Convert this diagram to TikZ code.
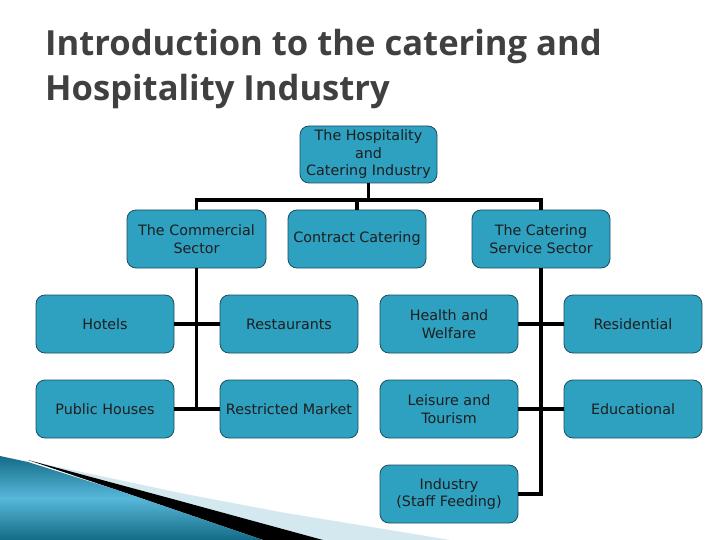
\documentclass[tikz,border=0pt]{standalone}
\usepackage{fontspec}
\setmainfont{DejaVu Sans}
\newfontfamily\titlefont{Open Sans}
\definecolor{boxfill}{HTML}{2EA0C0}
\definecolor{boxline}{HTML}{1B4F60}
\definecolor{titlegray}{HTML}{404040}
\definecolor{tealdark}{HTML}{136B87}
\definecolor{teallight}{HTML}{58B8DA}
\definecolor{paleblue}{HTML}{D3E8EF}
\definecolor{boxtext}{HTML}{1E1E1E}
\tikzset{
  box/.style={draw=boxline, line width=0.8pt, fill=boxfill, rounded corners=9pt,
    minimum width=138pt, minimum height=58pt, inner sep=0pt, align=center,
    text=boxtext, font=\fontsize{14.3}{17.5}\selectfont},
  conn/.style={line width=3.8pt, black},
  ttl/.style={anchor=base west, inner sep=0pt, text=titlegray,
    font=\titlefont\bfseries\fontsize{34.6}{40}\selectfont}
}
\begin{document}
\begin{tikzpicture}[x=1pt,y=-1pt]
\useasboundingbox (0,0) rectangle (720,540);
\fill[white] (0,0) rectangle (720,540);
% decoration bottom left
\fill[paleblue] (35,462) -- (180,493) -- (280,512) -- (420,535) -- (450,540) -- (323,540) -- cycle;
\fill[black] (28,460) -- (180,501) -- (323,540) -- (263,540) -- (120,491) -- cycle;
\shade[left color=tealdark, right color=tealdark, middle color=teallight, shading angle=0]
  (0,456) -- (28,462) -- (120,491) -- (263,540) -- (0,540) -- cycle;
% title
\node[ttl] (t1) at (45,56) {Introduction to the catering and};
\node[ttl] (t2) at (45,101) {Hospitality Industry};
% nodes
\node[box, minimum width=137pt, minimum height=57pt] (top) at (368.5,154.5) {The Hospitality\\and\\Catering Industry};
\node[box, minimum width=139pt] (com) at (196.5,239) {The Commercial\\Sector};
\node[box] (con) at (357,239) {Contract Catering};
\node[box] (css) at (541,239) {The Catering\\Service Sector};
\node[box] (hot) at (105,324) {Hotels};
\node[box] (res) at (289,324) {Restaurants};
\node[box] (hea) at (449,324) {Health and\\Welfare};
\node[box] (rsd) at (633,324) {Residential};
\node[box] (pub) at (105,409) {Public Houses};
\node[box] (rmk) at (289,409) {Restricted Market};
\node[box] (lei) at (449,409) {Leisure and\\Tourism};
\node[box] (edu) at (633,409) {Educational};
\node[box] (ind) at (449,494) {Industry\\(Staff Feeding)};
% connectors
\coordinate (bus) at (368.5,200);
\draw[conn] (top.south) -- (bus);
\draw[conn] (com.north) |- (bus) -| (css.north);
\draw[conn] (con.north) -- (con.north |- bus);
\draw[conn] (com.south) -- (com.south |- pub.east);
\draw[conn] (hot.east) -- (res.west);
\draw[conn] (pub.east) -- (rmk.west);
\draw[conn] (css.south) |- (ind.east);
\draw[conn] (hea.east) -- (rsd.west);
\draw[conn] (lei.east) -- (edu.west);
\end{tikzpicture}
\end{document}
